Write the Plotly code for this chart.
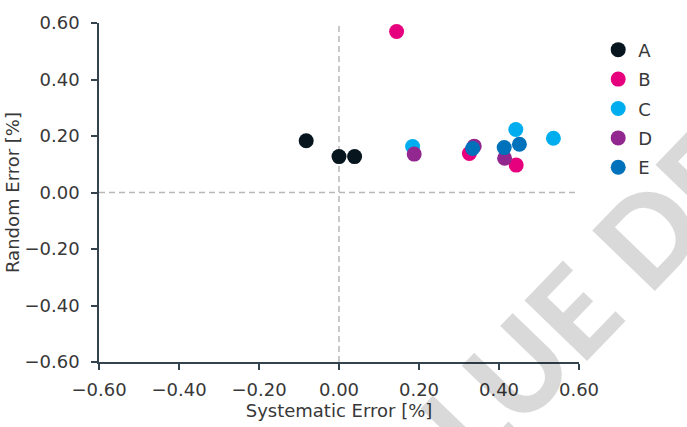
import plotly.graph_objects as go

# Systematic vs random error per instrument (percent)
series_names = ["A", "B", "C", "D", "E"]
series_colors = ["#07151f", "#e6007e", "#00aeef", "#92278f", "#0071bb"]

sys_a = [-0.082, 0.000, 0.039]
rnd_a = [0.183, 0.127, 0.127]
sys_b = [0.144, 0.326, 0.443]
rnd_b = [0.570, 0.138, 0.097]
sys_c = [0.184, 0.442, 0.536]
rnd_c = [0.163, 0.223, 0.192]
sys_d = [0.188, 0.338, 0.414]
rnd_d = [0.136, 0.164, 0.121]
sys_e = [0.334, 0.413, 0.451]
rnd_e = [0.156, 0.159, 0.171]

tick_vals = [-0.6, -0.4, -0.2, 0.0, 0.2, 0.4, 0.6]
tick_text = ["\u22120.60", "\u22120.40", "\u22120.20", "0.00", "0.20", "0.40", "0.60"]

xs = [sys_a, sys_b, sys_c, sys_d, sys_e]
ys = [rnd_a, rnd_b, rnd_c, rnd_d, rnd_e]

FONT = "DejaVu Sans"
TEXT_COLOR = "#383838"
AXIS_COLOR = "#34444f"

fig = go.Figure()
for name, color, x, y in zip(series_names, series_colors, xs, ys):
    fig.add_trace(go.Scatter(
        x=x, y=y, mode="markers", name=name, legendgroup=name,
        marker=dict(size=15, color=color, line=dict(width=0)),
    ))

# dashed reference lines through the origin
fig.add_shape(type="line", xref="x", yref="y", x0=0, x1=0, y0=-0.6, y1=0.6,
              line=dict(color="#b8b8b8", width=1.5, dash="6px,4px"), layer="below")
fig.add_shape(type="line", xref="x", yref="y", x0=-0.6, x1=0.6, y0=0, y1=0,
              line=dict(color="#b8b8b8", width=1.5, dash="6px,4px"), layer="below")

# watermark
fig.add_annotation(
    text="VALUE DEMO", xref="paper", yref="paper", x=1.047, y=0.241,
    xanchor="center", yanchor="middle", showarrow=False, textangle=-46,
    font=dict(family="Lato", size=120, color="rgba(0,0,0,0.15)", weight=900),
)

axis_common = dict(
    range=[-0.6, 0.6], tickvals=tick_vals, ticktext=tick_text,
    showgrid=False, zeroline=False, showline=True, linecolor=AXIS_COLOR,
    linewidth=1.5, ticks="outside", ticklen=6, tickwidth=1.5, tickcolor=AXIS_COLOR,
    tickfont=dict(family=FONT, size=18, color=TEXT_COLOR),
)

fig.update_layout(
    width=687, height=427,
    margin=dict(l=98, r=108, t=20, b=62),
    paper_bgcolor="white", plot_bgcolor="white",
    xaxis=dict(**axis_common, ticklabelstandoff=5,
               title=dict(text="Systematic Error [%]", standoff=2,
                          font=dict(family=FONT, size=18, color=TEXT_COLOR))),
    yaxis=dict(**axis_common, ticklabelstandoff=8,
               title=dict(text="Random Error [%]", standoff=0,
                          font=dict(family=FONT, size=18, color=TEXT_COLOR))),
    legend=dict(x=1.04, y=0.975, xanchor="left", yanchor="top",
                font=dict(family=FONT, size=18, color=TEXT_COLOR),
                tracegroupgap=3, bgcolor="rgba(0,0,0,0)"),
    showlegend=True,
)

fig.write_html("out.html")
